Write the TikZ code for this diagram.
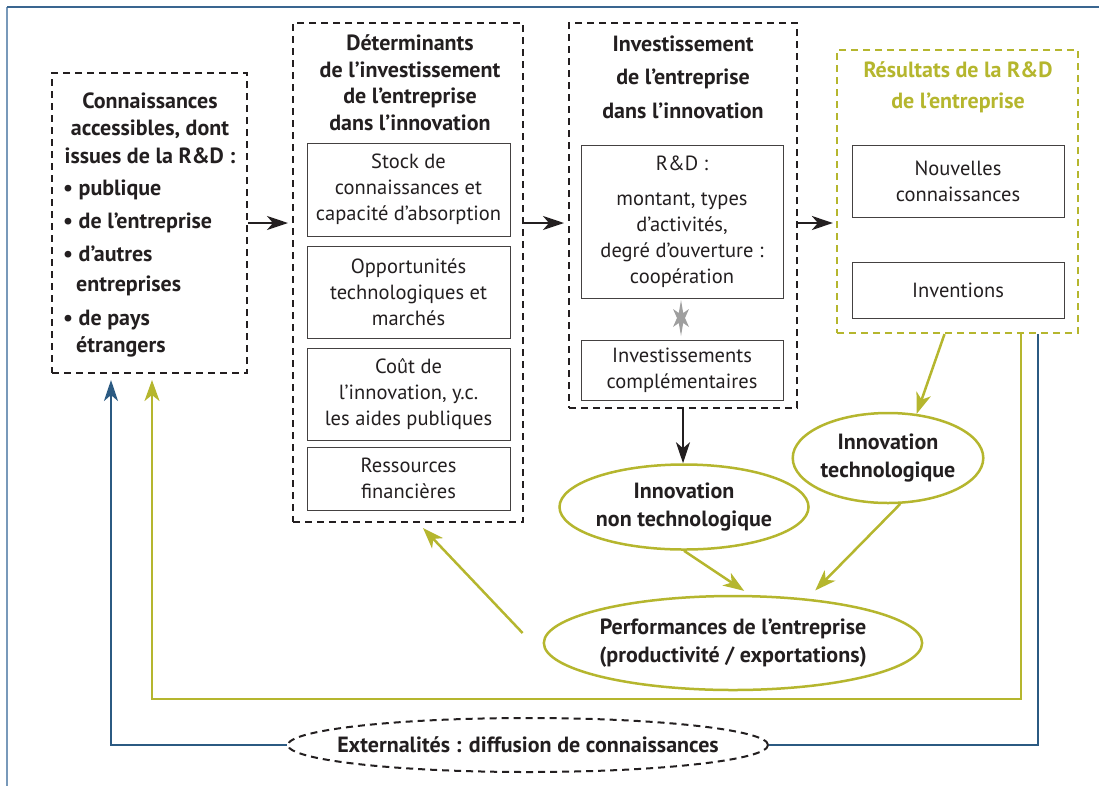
\documentclass[tikz,border=0pt]{standalone}
\usepackage{fontspec}
\setmainfont{PT Sans}
\usetikzlibrary{arrows.meta,shapes.geometric,fit}
\definecolor{oliveg}{HTML}{B5B62E}
\definecolor{navyb}{HTML}{2B5A82}
\definecolor{framel}{HTML}{7899BA}
\definecolor{framet}{HTML}{3A6690}
\definecolor{ink}{HTML}{231F20}
\newcommand\Bfnt{\fontsize{22}{27.5}\selectfont\bfseries}
\newcommand\Rfnt{\fontsize{20.5}{26}\selectfont}
\begin{document}
\begin{tikzpicture}[x=1pt,y=-1pt,
  dbox/.style={draw=ink, dash pattern=on 7pt off 5pt, line width=2pt, inner sep=0pt},
  obox/.style={draw=oliveg, dash pattern=on 7pt off 5pt, line width=2.2pt, inner sep=0pt},
  ibox/.style={draw=ink!85, line width=1pt, align=center, font=\Rfnt, text=ink, inner sep=0pt},
  ttl/.style={font=\Bfnt, align=center, anchor=base, text=ink, inner sep=0pt},
  bul/.style={font=\Bfnt, anchor=base west, text=ink, inner sep=0pt},
  ell/.style={ellipse, draw=oliveg, line width=2.5pt, fill=white, align=center, font=\Bfnt, text=ink, inner sep=0pt},
  karr/.style={-{Stealth[length=21pt,width=14pt,inset=6pt]}, line width=2.4pt, draw=ink},
  oarr/.style={-{Stealth[length=21pt,width=15pt,inset=6pt]}, line width=2.5pt, draw=oliveg},
  barr/.style={-{Stealth[length=21pt,width=14pt,inset=6pt]}, line width=2.5pt, draw=navyb}]
\useasboundingbox (0,0) rectangle (1099,785);
% outer frame
\draw[framel, line width=1.3pt] (7,790) -- (7,7);
\draw[framet, line width=1.3pt] (7,7) -- (1105,7);

% Box A
\node[dbox, fit={(52,73) (247,373)}] (A) {};
\node[ttl] (At) at (150,163) {Connaissances\\accessibles, dont\\issues de la R\&D :};
\node[bul] (A1) at (63,195) {• publique};
\node[bul] (A2) at (63,228) {• de l’entreprise};
\node[bul] (A3) at (63,261) {• d’autres};
\node[bul] (A3b) at (76,291) {entreprises};
\node[bul] (A4) at (63,325) {• de pays};
\node[bul] (A4b) at (76,352) {étrangers};

% Box B
\node[dbox, fit={(293,23) (523,522)}] (B) {};
\node[ttl, font=\fontsize{22}{26.5}\selectfont\bfseries] (Bt) at (410,130) {Déterminants\\de l’investissement\\de l’entreprise\\dans l’innovation};
\node[ibox, minimum width=203, minimum height=93] (B1) at (408.5,189.5) {Stock de\\connaissances et\\capacité d’absorption};
\node[ibox, minimum width=203, minimum height=92] (B2) at (408.5,292) {Opportunités\\technologiques et\\marchés};
\node[ibox, minimum width=203, minimum height=92] (B3) at (408.5,394) {Coût de\\l’innovation, y.c.\\les aides publiques};
\node[ibox, minimum width=203, minimum height=63] (B4) at (408.5,478.5) {Ressources\\financières};

% Box C
\node[dbox, fit={(569,23) (797,408)}] (C) {};
\node[ttl] (Ct) at (683,118) {Investissement\\[6pt]de l’entreprise\\[6pt]dans l’innovation};
\node[ibox, minimum width=202, minimum height=153] (C1) at (682,221.5) {R\&D :\\[9pt]montant, types\\d’activités,\\degré d’ouverture :\\coopération};
\node[ibox, minimum width=202, minimum height=60] (C2) at (682,370) {Investissements\\complémentaires};
\fill[gray!75, shift={(681,318)}] (0,-18) -- (2.2,-5) -- (8,-9) -- (4,0) -- (8,9) -- (2.2,5) -- (0,18) -- (-2.2,5) -- (-8,9) -- (-4,0) -- (-8,-9) -- (-2.2,-5) -- cycle;

% Box D
\node[obox, fit={(837,50) (1078,333)}] (D) {};
\node[ttl, text=oliveg, font=\fontsize{22}{31}\selectfont\bfseries] (Dt) at (958,108) {Résultats de la R\&D\\de l’entreprise};
\node[ibox, minimum width=212, minimum height=72] (D1) at (958,181) {Nouvelles\\connaissances};
\node[ibox, minimum width=212, minimum height=56] (D2) at (958,290) {Inventions};

% ellipses
\node[ell, minimum width=244, minimum height=85] (NT) at (684,507) {Innovation\\non technologique};
\node[ell, minimum width=184, minimum height=90] (IT) at (888,458) {Innovation\\technologique};
\node[ell, minimum width=376, minimum height=94] (P) at (733,643) {Performances de l’entreprise\\(productivité / exportations)};
\node[ellipse, draw=ink, dash pattern=on 7pt off 5pt, line width=2pt, fill=white, font=\Bfnt, text=ink, inner xsep=-22pt, inner ysep=0pt, minimum width=480, minimum height=54] (EX) at (528,745) {Externalités : diffusion de connaissances};

% black arrows
\draw[karr, shorten >=4pt] (A.east) -- (A.east -| B.west);
\draw[karr, shorten >=4pt] (B.east |- A.east) -- (C.west |- A.east);
\draw[karr, shorten >=3pt] (C.east |- A.east) -- (D.west |- A.east);
\draw[karr] (C.south) -- (C.south |- NT.north);

% olive arrows
\draw[oarr] ([xshift=-13pt]D.south) -- (IT.57);
\draw[oarr, shorten >=7pt] (NT.south) -- ([xshift=17pt]P.north);
\draw[oarr, shorten >=6pt] (IT.-75) -- ([xshift=78pt]P.north);
\draw[oarr] ([xshift=-20pt,yshift=10pt]P.west) -- ([xshift=15pt,yshift=-5pt]B.south);
\coordinate (ol) at (152,699);
\draw[oarr, shorten >=6pt] ([xshift=63.5pt]D.south) |- (ol) -- (ol |- A.south);

% blue connectors
\draw[barr, shorten >=6pt] (EX.west) -| ([xshift=-38.5pt]A.south);
\draw[navyb, line width=2.5pt] (EX.east) -| ([xshift=80.5pt]D.south);
\end{tikzpicture}
\end{document}
